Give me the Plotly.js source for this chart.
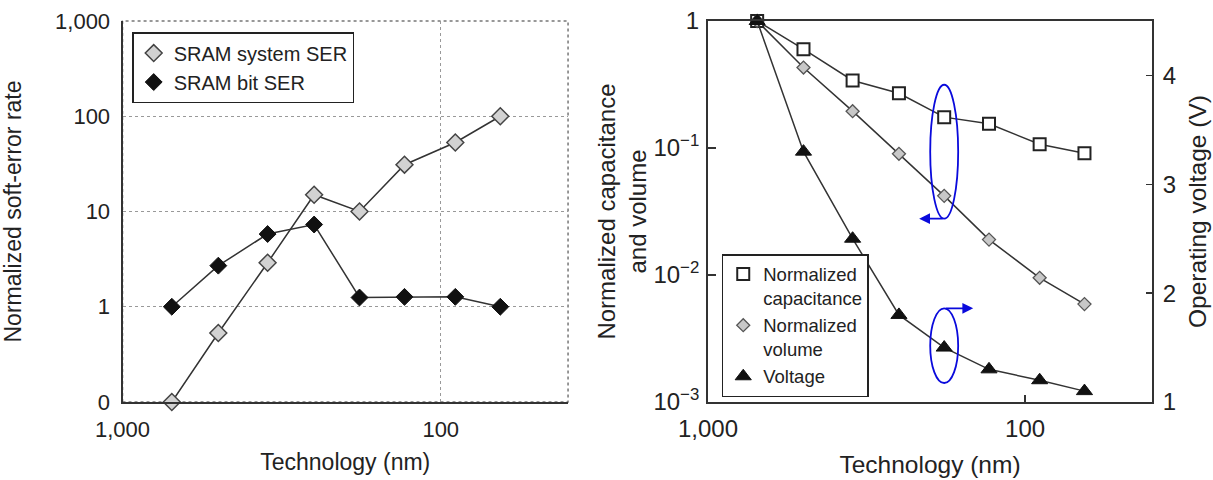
<!DOCTYPE html>
<html><head><meta charset="utf-8">
<script src="https://cdn.plot.ly/plotly-3.0.1.min.js"></script>
<style>html,body{margin:0;padding:0;background:#fff}#chart{width:1213px;height:480px}</style>
</head><body><div id="chart"></div>
<script>
// ---- data ----
const techNm = [700, 500, 350, 250, 180, 130, 90, 65];
const sramSystemSER = [0.1, 0.53, 2.9, 15, 10, 31, 53, 100];
const sramBitSER = [1, 2.7, 5.8, 7.3, 1.25, 1.27, 1.27, 1.0];
const normCapacitance = [1, 0.6, 0.34, 0.27, 0.175, 0.155, 0.107, 0.091];
const normVolume = [1, 0.43, 0.195, 0.09, 0.042, 0.019, 0.0095, 0.0059];
const voltage = [4.5, 3.3, 2.5, 1.8, 1.5, 1.3, 1.2, 1.1];

const xTickVals = [1000, 100];
const xTickText = ['1,000', '100'];
const serTickVals = [0.1, 1, 10, 100, 1000];
const serTickText = ['0', '1', '10', '100', '1,000'];
const capTickVals = [0.001, 0.01, 0.1, 1];
const capTickText = ['10<sup>\u22123</sup>', '10<sup>\u22122</sup>', '10<sup>\u22121</sup>', '1'];
const voltTickVals = [1, 2, 3, 4];
const voltTickText = ['1', '2', '3', '4'];

const FONT = 'Liberation Sans, Arial, Helvetica, sans-serif';
const TXT = '#222';
const LINE = '#333';

// axis ranges (log10 for log axes)
const xRange = [3, 1.6];
const capRange = [-3, 0];
const voltRange = [1, 4.5];

const traces = [
  // left panel
  {x: techNm, y: sramSystemSER, xaxis: 'x', yaxis: 'y', mode: 'lines', showlegend: false,
   line: {color: LINE, width: 1.5}, cliponaxis: false, hoverinfo: 'skip'},
  {x: techNm, y: sramBitSER, xaxis: 'x', yaxis: 'y', mode: 'lines', showlegend: false,
   line: {color: LINE, width: 1.5}, cliponaxis: false, hoverinfo: 'skip'},
  {x: techNm, y: sramSystemSER, xaxis: 'x', yaxis: 'y', mode: 'markers', name: 'SRAM system SER',
   legend: 'legend', cliponaxis: false,
   marker: {symbol: 'diamond', size: 13, color: '#d2d2d2', line: {color: '#444', width: 1.5}}},
  {x: techNm, y: sramBitSER, xaxis: 'x', yaxis: 'y', mode: 'markers', name: 'SRAM bit SER',
   legend: 'legend', cliponaxis: false,
   marker: {symbol: 'diamond', size: 13, color: '#111', line: {color: '#111', width: 1}}},
  // right panel
  {x: techNm, y: normCapacitance, xaxis: 'x2', yaxis: 'y2', mode: 'lines', showlegend: false,
   line: {color: LINE, width: 1.5}, cliponaxis: false, hoverinfo: 'skip'},
  {x: techNm, y: normVolume, xaxis: 'x2', yaxis: 'y2', mode: 'lines', showlegend: false,
   line: {color: LINE, width: 1.5}, cliponaxis: false, hoverinfo: 'skip'},
  {x: techNm, y: voltage, xaxis: 'x2', yaxis: 'y3', mode: 'lines', showlegend: false,
   line: {color: LINE, width: 1.5}, cliponaxis: false, hoverinfo: 'skip'},
  {x: techNm, y: normCapacitance, xaxis: 'x2', yaxis: 'y2', mode: 'markers', name: 'Normalized<br>capacitance',
   legend: 'legend2', cliponaxis: false,
   marker: {symbol: 'square', size: 12, color: '#fff', line: {color: '#222', width: 2}}},
  {x: techNm, y: normVolume, xaxis: 'x2', yaxis: 'y2', mode: 'markers', name: 'Normalized<br>volume',
   legend: 'legend2', cliponaxis: false,
   marker: {symbol: 'diamond', size: 10, color: '#c8c8c8', line: {color: '#555', width: 1.3}}},
  {x: techNm, y: voltage, xaxis: 'x2', yaxis: 'y3', mode: 'markers', name: 'Voltage',
   legend: 'legend2', cliponaxis: false,
   marker: {symbol: 'triangle-up', size: 14, color: '#111', line: {color: '#111', width: 1}}}
];

const tickFontL = {family: FONT, size: 22, color: TXT};
const tickFontR = {family: FONT, size: 24, color: TXT};
const titleFontL = {family: FONT, size: 23, color: TXT};
const titleFontR = {family: FONT, size: 24.5, color: TXT};

// helpers: convert data values to fractions of the right panel's axis domains
const xFrac = v => (xRange[0] - Math.log10(v)) / (xRange[0] - xRange[1]);
const capFrac = v => (Math.log10(v) - capRange[0]) / (capRange[1] - capRange[0]);
const voltFrac = v => (v - voltRange[0]) / (voltRange[1] - voltRange[0]);

const hl = 4; // highlighted node index (180 nm)
const cx = xFrac(techNm[hl]);
const ew = 0.0315; // half width of ellipse in domain fraction
const e1Top = capFrac(normCapacitance[hl]) + 0.085;
const e1Bot = capFrac(normVolume[hl]) - 0.06;
const e2Top = voltFrac(voltage[hl]) + 0.103;
const e2Bot = voltFrac(voltage[hl]) - 0.093;
const BLUE = '#0a0adc';

const layout = {
  width: 1213, height: 480,
  margin: {l: 0, r: 0, t: 21, b: 78},
  paper_bgcolor: '#fff', plot_bgcolor: 'rgba(0,0,0,0)',
  font: {family: FONT, color: TXT},
  xaxis: {
    domain: [0.101, 0.4683], type: 'log', range: xRange,
    tickvals: xTickVals, ticktext: xTickText, tickfont: tickFontL,
    showgrid: true, gridcolor: '#999', griddash: 'dot', gridwidth: 1,
    showline: true, linecolor: '#333', linewidth: 2, mirror: false,
    ticks: '', ticklabelstandoff: 7, zeroline: false,
    title: {text: 'Technology (nm)', font: titleFontL, standoff: 12}
  },
  yaxis: {
    domain: [0, 1], type: 'log', range: [-1, 3], anchor: 'x',
    tickvals: serTickVals, ticktext: serTickText, tickfont: tickFontL,
    showgrid: true, gridcolor: '#999', griddash: 'dot', gridwidth: 1,
    showline: true, linecolor: '#333', linewidth: 2, mirror: false,
    ticks: '', ticklabelstandoff: 6, zeroline: false,
    title: {text: 'Normalized soft-error rate', font: titleFontL, standoff: 33}
  },
  xaxis2: {
    domain: [0.5837, 0.9497], type: 'log', range: xRange, anchor: 'y2',
    tickvals: xTickVals, ticktext: xTickText, tickfont: tickFontR,
    showgrid: false, showline: true, linecolor: '#333', linewidth: 2, mirror: true,
    ticks: 'inside', ticklen: 7, tickcolor: '#333', tickwidth: 1.5, ticklabelstandoff: 4,
    zeroline: false,
    title: {text: 'Technology (nm)', font: titleFontR, standoff: 15}
  },
  yaxis2: {
    domain: [0, 1], type: 'log', range: capRange, anchor: 'x2',
    tickvals: capTickVals, ticktext: capTickText, tickfont: tickFontR,
    showgrid: false, showline: true, linecolor: '#333', linewidth: 2, mirror: true,
    ticks: 'inside', ticklen: 8, tickcolor: '#333', tickwidth: 1.5, ticklabelstandoff: 2,
    zeroline: false,
    title: {text: 'Normalized capacitance<br>and volume', font: {family: FONT, size: 24, color: TXT}, standoff: 0}
  },
  yaxis3: {
    overlaying: 'y2', side: 'right', anchor: 'x2', range: voltRange,
    tickvals: voltTickVals, ticktext: voltTickText, tickfont: tickFontR,
    showgrid: false, showline: true, linecolor: '#333', linewidth: 2,
    ticks: 'inside', ticklen: 6, tickcolor: '#333', tickwidth: 1.5, ticklabelstandoff: 4,
    zeroline: false,
    title: {text: 'Operating voltage (V)', font: titleFontR, standoff: 14}
  },
  legend: {
    x: 0.109, y: 0.971, xanchor: 'left', yanchor: 'top',
    bgcolor: '#fff', bordercolor: '#222', borderwidth: 1.5,
    font: {family: FONT, size: 20, color: TXT}, itemwidth: 30, tracegroupgap: 0
  },
  legend2: {
    x: 0.595, y: 0.013, xanchor: 'left', yanchor: 'bottom', valign: 'top',
    bgcolor: '#fff', bordercolor: '#222', borderwidth: 1.5,
    font: {family: FONT, size: 18.5, color: TXT}, itemwidth: 30, tracegroupgap: 0
  },
  shapes: [
    // dotted top/right frame of the left panel
    {type: 'rect', xref: 'x domain', yref: 'y domain', x0: 0, x1: 1, y0: 0, y1: 1,
     line: {color: '#777', width: 1.5, dash: 'dot'}, layer: 'below'},
    // blue ellipses highlighting the 180 nm points
    {type: 'circle', xref: 'x2 domain', yref: 'y2 domain', x0: cx - ew, x1: cx + ew, y0: e1Bot, y1: e1Top,
     line: {color: BLUE, width: 1.8}},
    {type: 'circle', xref: 'x2 domain', yref: 'y2 domain', x0: cx - ew, x1: cx + ew, y0: e2Bot, y1: e2Top,
     line: {color: BLUE, width: 1.8}}
  ],
  annotations: [
    {xref: 'x2 domain', yref: 'y2 domain', x: cx - 25 / 444, y: e1Bot, ax: 25, ay: 0, text: '',
     showarrow: true, arrowhead: 2, arrowsize: 1.2, arrowwidth: 1.8, arrowcolor: BLUE},
    {xref: 'x2 domain', yref: 'y2 domain', x: cx + 29 / 444, y: e2Top, ax: -29, ay: 0, text: '',
     showarrow: true, arrowhead: 2, arrowsize: 1.2, arrowwidth: 1.8, arrowcolor: BLUE}
  ]
};

Plotly.newPlot('chart', traces, layout, {displayModeBar: false, staticPlot: true});
</script>
</body></html>
